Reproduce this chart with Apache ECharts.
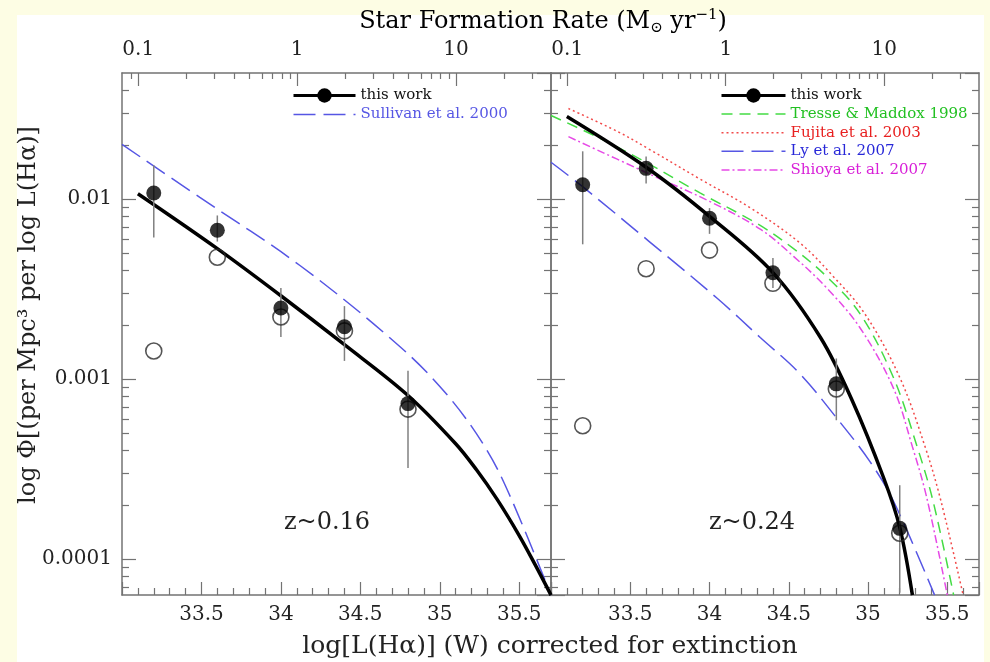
<!DOCTYPE html>
<html>
<head>
<meta charset="utf-8">
<title>H-alpha luminosity function</title>
<script src="https://cdn.jsdelivr.net/npm/echarts@6/dist/echarts.min.js"></script>
<style>
  html, body { margin: 0; padding: 0; background: #fdfde4; }
  #chart { width: 990px; height: 662px; }
</style>
</head>
<body>
<div id="chart"></div>
<script>
// axis ranges (both panels share them)
const lumMin = 33.0;
const lumMax = 35.7;
const phiMin = 6.31e-5;
const phiMax = 0.0501;
// SFR(Msun/yr) = 7.9e-35 L(W), Kennicutt 1998
const sfrPerWatt = 7.9e-35;

const phiMinorTicks = [7e-5, 8e-5, 9e-5,
  2e-4, 3e-4, 4e-4, 5e-4, 6e-4, 7e-4, 8e-4, 9e-4,
  2e-3, 3e-3, 4e-3, 5e-3, 6e-3, 7e-3, 8e-3, 9e-3,
  2e-2, 3e-2, 4e-2];
const sfrMinorTicks = [0.09, 0.2, 0.3, 0.4, 0.5, 0.6, 0.7, 0.8, 0.9,
  2, 3, 4, 5, 6, 7, 8, 9, 20, 30];

// z~0.16 panel
const lumA = [33.2, 33.6, 34.0, 34.4, 34.8];
const phiA = [0.0108, 0.0067, 0.00248, 0.00195, 0.00073];
const phiALow = [0.0061, 0.0058, 0.00171, 0.00126, 0.00032];
const phiAHigh = [0.0154, 0.0081, 0.0032, 0.00254, 0.00111];
const phiAOpen = [0.00143, 0.00475, 0.00221, 0.00185, 0.00068];
const fitALum = [33.1, 33.6, 34.0, 34.4, 34.8, 35.1, 35.23, 35.36, 35.5, 35.6, 35.7];
const fitAPhi = [0.0107, 0.0053, 0.0029, 0.00155, 0.00081, 0.000437, 0.000314, 0.000215, 0.000135, 0.000093, 0.000063];
const sullivanLum = [33.0, 33.49, 34.12, 34.75, 35.06, 35.3, 35.455, 35.7];
const sullivanPhi = [0.0201, 0.0102, 0.00427, 0.00151, 0.00079, 0.000398, 0.000211, 0.000063];

// z~0.24 panel
const lumB = [33.2, 33.6, 34.0, 34.4, 34.8, 35.2];
const phiB = [0.0120, 0.0148, 0.00782, 0.00389, 0.00094, 0.000148];
const phiBLow = [0.0056, 0.0122, 0.0064, 0.0032, 0.00059, 0.000065];
const phiBHigh = [0.0184, 0.0172, 0.0089, 0.0047, 0.0013, 0.000257];
const phiBOpen = [0.00055, 0.0041, 0.0052, 0.0034, 0.00088, 0.000139];
const fitBLum = [33.1, 33.6, 34.0, 34.4, 34.7, 34.9, 35.1, 35.2, 35.28];
const fitBPhi = [0.0287, 0.0150, 0.0080, 0.0039, 0.0017, 0.00076, 0.00028, 0.000150, 0.000063];
const tresseLum = [33.0, 33.31, 33.61, 33.94, 34.3, 34.53, 34.74, 34.95, 35.16, 35.31, 35.41, 35.54];
const tressePhi = [0.0291, 0.0217, 0.0158, 0.0108, 0.0073, 0.0053, 0.0037, 0.0023, 0.00102, 0.00042, 0.00021, 0.000063];
const fujitaLum = [33.11, 33.42, 33.61, 33.94, 34.26, 34.57, 34.77, 34.98, 35.2, 35.36, 35.46, 35.6];
const fujitaPhi = [0.0318, 0.0237, 0.0191, 0.0129, 0.0089, 0.0057, 0.0038, 0.0023, 0.00102, 0.00042, 0.00021, 0.000063];
const lyLum = [33.0, 33.2, 33.62, 34.05, 34.32, 34.57, 34.8, 35.01, 35.16, 35.42];
const lyPhi = [0.0160, 0.0117, 0.0058, 0.0028, 0.0017, 0.00107, 0.00061, 0.00035, 0.00021, 0.000063];
const shioyaLum = [33.11, 33.61, 34.0, 34.32, 34.53, 34.74, 34.95, 35.16, 35.28, 35.37, 35.5];
const shioyaPhi = [0.0222, 0.0139, 0.0097, 0.0068, 0.0048, 0.0032, 0.00192, 0.00089, 0.00042, 0.00022, 0.000063];

const FONT = 'DejaVu Serif';
const frame = { color: '#737373', width: 1.5 };
const tickStyle = { color: '#737373', width: 1.2 };
const BLUE = '#5656e4', GREEN = '#44dc44', RED = '#f24a4a', MAGENTA = '#e64ae6';

const zip = (xs, ys) => xs.map((x, i) => [x, ys[i]]);
const zip3 = (xs, lo, hi) => xs.map((x, i) => [x, lo[i], hi[i]]);
const num = v => String(parseFloat(Number(v).toPrecision(4)));

const chart = echarts.init(document.getElementById('chart'));

// two panels side by side
const grids = [
  { left: 122, top: 73, width: 429, height: 522, outerBoundsMode: 'none' },
  { left: 551, top: 73, width: 428, height: 522, outerBoundsMode: 'none' },
];

const xAxes = [];
const yAxes = [];
[0, 1].forEach(g => {
  // bottom: log L
  xAxes.push({
    type: 'value', gridIndex: g, position: 'bottom', min: lumMin, max: lumMax, interval: 0.5,
    axisLine: { show: true, onZero: false, lineStyle: frame },
    axisTick: { show: true, inside: true, length: 13, lineStyle: tickStyle },
    minorTick: { show: true, splitNumber: 5, length: 7, lineStyle: tickStyle },
    axisLabel: { show: true, margin: 10, fontFamily: FONT, fontSize: 20, color: '#222',
      showMinLabel: false, showMaxLabel: false, formatter: num },
    splitLine: { show: false },
  });
  // top: SFR, major
  xAxes.push({
    type: 'log', gridIndex: g, position: 'top', logBase: 10,
    min: sfrPerWatt * Math.pow(10, lumMin), max: sfrPerWatt * Math.pow(10, lumMax),
    axisLine: { show: true, onZero: false, lineStyle: frame },
    axisTick: { show: true, inside: true, length: 13, lineStyle: tickStyle },
    axisLabel: { show: true, margin: 13, fontFamily: FONT, fontSize: 20, color: '#222',
      showMinLabel: false, showMaxLabel: false, formatter: num },
    splitLine: { show: false },
  });
  // top: SFR, minor
  xAxes.push({
    type: 'log', gridIndex: g, position: 'top', logBase: 10,
    min: sfrPerWatt * Math.pow(10, lumMin), max: sfrPerWatt * Math.pow(10, lumMax),
    axisLine: { show: false, onZero: false },
    axisTick: { show: true, inside: true, length: 6, lineStyle: tickStyle, customValues: sfrMinorTicks },
    axisLabel: { show: false },
    splitLine: { show: false },
  });
  ['left', 'right'].forEach(side => {
    yAxes.push({
      type: 'log', gridIndex: g, position: side, logBase: 10, min: phiMin, max: phiMax,
      axisLine: { show: true, onZero: false, lineStyle: frame },
      axisTick: { show: true, inside: true, length: 14, lineStyle: tickStyle },
      axisLabel: { show: g === 0 && side === 'left', margin: 10, fontFamily: FONT, fontSize: 20,
        color: '#222', showMinLabel: false, showMaxLabel: false, formatter: num },
      splitLine: { show: false },
    });
    yAxes.push({
      type: 'log', gridIndex: g, position: side, logBase: 10, min: phiMin, max: phiMax,
      axisLine: { show: false, onZero: false },
      axisTick: { show: true, inside: true, length: 7, lineStyle: tickStyle, customValues: phiMinorTicks },
      axisLabel: { show: false },
      splitLine: { show: false },
    });
  });
});

function curve(name, data, g, color, width, dash) {
  return {
    name, type: 'line', data, xAxisIndex: g * 3, yAxisIndex: g * 4,
    smooth: 0.35, symbol: 'none', showSymbol: false, clip: true,
    color, lineStyle: { color, width, type: dash },
    silent: true, emphasis: { disabled: true }, z: 3,
  };
}
function errorBars(data, g) {
  return {
    type: 'custom', data, xAxisIndex: g * 3, yAxisIndex: g * 4, silent: true, z: 4,
    encode: { x: 0, y: [1, 2] },
    renderItem(params, api) {
      const p1 = api.coord([api.value(0), api.value(1)]);
      const p2 = api.coord([api.value(0), api.value(2)]);
      return { type: 'line', shape: { x1: p1[0], y1: p1[1], x2: p2[0], y2: p2[1] },
        style: { stroke: '#808080', lineWidth: 1.5 } };
    },
  };
}
function points(data, g, open) {
  return {
    type: 'scatter', data, xAxisIndex: g * 3, yAxisIndex: g * 4, silent: true,
    symbol: 'circle', symbolSize: open ? 16 : 15, z: open ? 5 : 6,
    itemStyle: open ? { color: 'rgba(255,255,255,0)', borderColor: '#2a2a2a', borderWidth: 1.6 }
                    : { color: '#000' },
    emphasis: { disabled: true },
  };
}

const series = [
  curve('Sullivan et al. 2000', zip(sullivanLum, sullivanPhi), 0, BLUE, 1.5, [22, 8]),
  curve('this work', zip(fitALum, fitAPhi), 0, '#000', 3.5, 'solid'),
  errorBars(zip3(lumA, phiALow, phiAHigh), 0),
  points(zip(lumA, phiAOpen), 0, true),
  points(zip(lumA, phiA), 0, false),

  curve('Tresse & Maddox 1998', zip(tresseLum, tressePhi), 1, GREEN, 1.5, [11, 7]),
  curve('Fujita et al. 2003', zip(fujitaLum, fujitaPhi), 1, RED, 1.5, [2, 3]),
  curve('Ly et al. 2007', zip(lyLum, lyPhi), 1, BLUE, 1.5, [22, 8]),
  curve('Shioya et al. 2007', zip(shioyaLum, shioyaPhi), 1, MAGENTA, 1.5, [8, 3, 2, 3]),
  curve('this work', zip(fitBLum, fitBPhi), 1, '#000', 3.5, 'solid'),
  errorBars(zip3(lumB, phiBLow, phiBHigh), 1),
  points(zip(lumB, phiBOpen), 1, true),
  points(zip(lumB, phiB), 1, false),
];

const legendText = { fontFamily: FONT, fontSize: 15, color: '#111' };
const hideSym = { opacity: 0 };
const thin = { width: 1.5 };

chart.setOption({
  animation: false,
  backgroundColor: '#fdfde4',
  grid: grids,
  xAxis: xAxes,
  yAxis: yAxes,
  legend: [
    {
      left: 292, top: 88, padding: 0, orient: 'vertical', itemWidth: 62, itemHeight: 18, itemGap: 4,
      selectedMode: false, textStyle: legendText,
      data: [
        { name: 'this work', lineStyle: { width: 3 } },
        { name: 'Sullivan et al. 2000', itemStyle: hideSym, lineStyle: thin, textStyle: { color: BLUE } },
      ],
    },
    {
      left: 720, top: 88, padding: 0, orient: 'vertical', itemWidth: 64, itemHeight: 18, itemGap: 3.6,
      selectedMode: false, textStyle: legendText,
      data: [
        { name: 'this work', lineStyle: { width: 3 } },
        { name: 'Tresse & Maddox 1998', itemStyle: hideSym, lineStyle: thin, textStyle: { color: '#22c022' } },
        { name: 'Fujita et al. 2003', itemStyle: hideSym, lineStyle: thin, textStyle: { color: '#e82020' } },
        { name: 'Ly et al. 2007', itemStyle: hideSym, lineStyle: thin, textStyle: { color: '#2828d8' } },
        { name: 'Shioya et al. 2007', itemStyle: hideSym, lineStyle: thin, textStyle: { color: '#d820d8' } },
      ],
    },
  ],
  graphic: [
    { type: 'rect', z: -10, silent: true, shape: { x: 17, y: 15, width: 967, height: 660 },
      style: { fill: '#ffffff' } },
    { type: 'text', silent: true, x: 543, y: 22,
      style: {
        text: '{a|Star Formation Rate (M}{s|⊙}{a| yr}{p|−1}{a|)}',
        align: 'center', verticalAlign: 'middle',
        rich: {
          a: { fontFamily: FONT, fontSize: 24, color: '#222', lineHeight: 28 },
          s: { fontFamily: FONT, fontSize: 15, color: '#222', lineHeight: 15, verticalAlign: 'bottom' },
          p: { fontFamily: FONT, fontSize: 15, color: '#222', lineHeight: 15, verticalAlign: 'top' },
        },
      } },
    { type: 'text', silent: true, x: 550, y: 646,
      style: { text: 'log[L(Hα)] (W) corrected for extinction', fontFamily: FONT, fontSize: 25,
        fill: '#222', align: 'center', verticalAlign: 'middle' } },
    { type: 'text', silent: true, x: 29, y: 315, rotation: Math.PI / 2,
      style: { text: 'log Φ[(per Mpc³ per log L(Hα)]', fontFamily: FONT, fontSize: 24,
        fill: '#222', align: 'center', verticalAlign: 'middle' } },
    { type: 'text', silent: true, x: 327, y: 523,
      style: { text: 'z~0.16', fontFamily: FONT, fontSize: 24, fill: '#222',
        align: 'center', verticalAlign: 'middle' } },
    { type: 'text', silent: true, x: 752, y: 523,
      style: { text: 'z~0.24', fontFamily: FONT, fontSize: 24, fill: '#222',
        align: 'center', verticalAlign: 'middle' } },
  ],
  series,
});
</script>
</body>
</html>
